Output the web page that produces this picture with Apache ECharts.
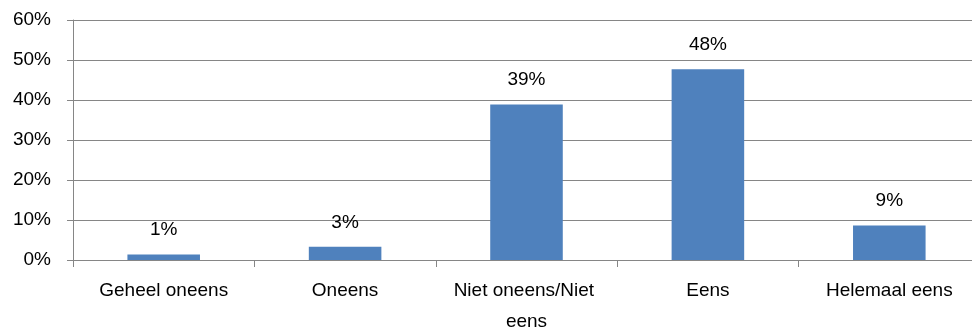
<!DOCTYPE html>
<html>
<head>
<meta charset="utf-8">
<script src="https://cdn.jsdelivr.net/npm/echarts@6/dist/echarts.min.js"></script>
<style>
html,body{margin:0;padding:0;background:#fff;}
#chart{width:972px;height:331px;}
</style>
</head>
<body>
<div id="chart"></div>
<script>
const categories = ["Geheel oneens", "Oneens", "Niet oneens/Niet eens", "Eens", "Helemaal eens"];
const values = [0.014, 0.033, 0.389, 0.477, 0.086];
const yTicks = [0, 0.1, 0.2, 0.3, 0.4, 0.5, 0.6];

const FONT = "Liberation Sans";
const chart = echarts.init(document.getElementById('chart'), null, {renderer: 'canvas'});
chart.setOption({
  animation: false,
  grid: {left: 73, right: -8, top: 20, bottom: 71, containLabel: false, outerBoundsMode: 'none'},
  xAxis: {
    type: 'category',
    data: categories,
    axisLine: {lineStyle: {color: '#868686', width: 1}},
    axisTick: {show: true, length: 7, inside: false, lineStyle: {color: '#868686'}},
    axisLabel: {
      color: '#000', fontFamily: FONT, fontSize: 19, margin: 15,
      lineHeight: 31, width: 172, overflow: 'break', interval: 0
    }
  },
  yAxis: {
    type: 'value',
    min: yTicks[0], max: yTicks[yTicks.length - 1], interval: 0.1,
    axisLine: {show: true, lineStyle: {color: '#868686', width: 1}},
    axisTick: {show: true, length: 6, lineStyle: {color: '#868686'}},
    splitLine: {show: true, lineStyle: {color: '#868686', width: 1}},
    axisLabel: {
      color: '#000', fontFamily: FONT, fontSize: 19, margin: 22,
      formatter: v => Math.round(v * 100) + '%'
    }
  },
  series: [{
    type: 'bar',
    data: values,
    barWidth: '40%',
    itemStyle: {color: '#4F81BD'},
    label: {
      show: true, position: 'top', distance: 15,
      color: '#000', fontFamily: FONT, fontSize: 19,
      formatter: p => Math.round(p.value * 100) + '%'
    }
  }]
});
</script>
</body>
</html>
